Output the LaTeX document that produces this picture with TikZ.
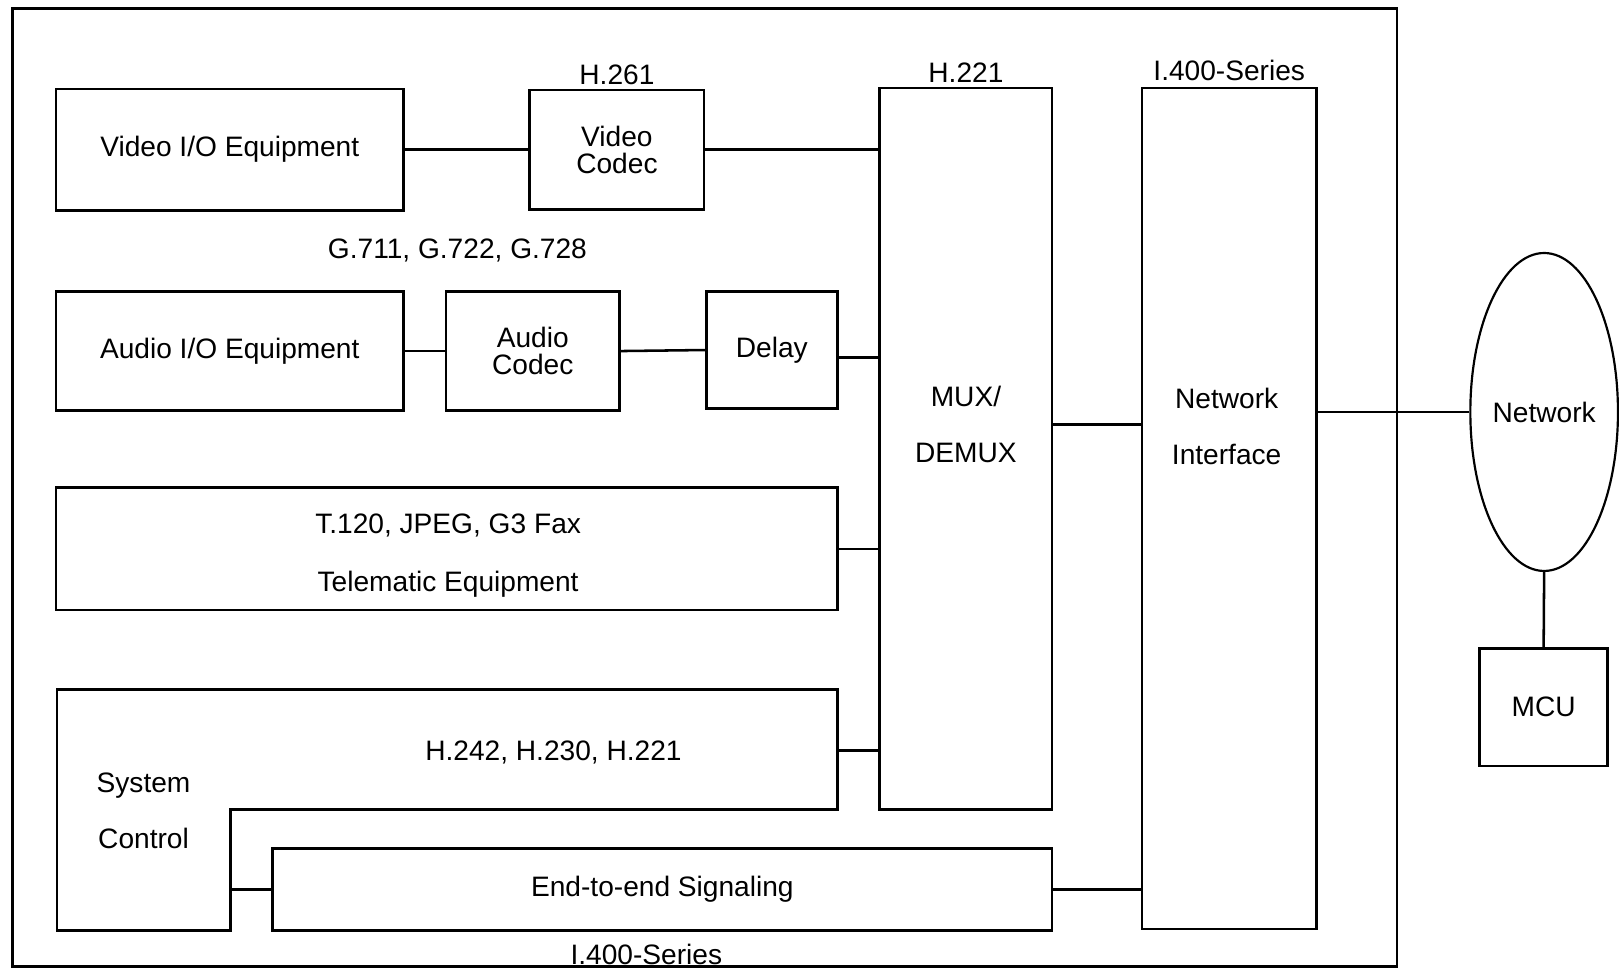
\documentclass[tikz,border=0pt]{standalone}
\usepackage{fontspec}
\setmainfont{Liberation Sans}
\usetikzlibrary{positioning,shapes.geometric}

\tikzset{
  blk/.style={draw, line width=1.4pt, inner sep=0pt, align=center},
  lbl/.style={inner sep=1pt, align=center},
  wire/.style={line width=1.4pt}
}

\begin{document}
\begin{tikzpicture}[x=0.02cm, y=-0.02cm, font=\fontsize{15.5}{18}\selectfont]

% Page frame
\useasboundingbox (0,0) rectangle (1568,939);

% Outer terminal frame
\draw[line width=1.4pt] (12,8) rectangle (1353,936);

% Video path
\node[blk, minimum width=6.74cm, minimum height=2.36cm] (vio) at (222.5,145) {Video I/O Equipment};
\node[blk, minimum width=3.38cm, minimum height=2.32cm] (vcodec) at (597.5,145) {Video\\[-3pt]Codec};
\node[lbl, above=1pt of vcodec] (h261) {H.261};

% Audio path
\node[lbl] (gaudio) at (443,243) {G.711, G.722, G.728};
\node[blk, minimum width=6.74cm, minimum height=2.30cm] (aio) at (222.5,340) {Audio I/O Equipment};
\node[blk, minimum width=3.36cm, minimum height=2.30cm] (acodec) at (516,340) {Audio\\[-3pt]Codec};
\node[blk, minimum width=2.54cm, minimum height=2.26cm] (delay) at (747.5,339) {Delay};

% Telematic
\node[blk, minimum width=15.14cm, minimum height=2.38cm] (tele) at (432.5,531.5) {};
\node[lbl] (teletxt) at (434,538) {T.120, JPEG, G3 Fax\\[14pt]Telematic Equipment};

% MUX/DEMUX and network interface
\node[blk, minimum width=3.34cm, minimum height=13.98cm] (mux) at (935.5,434.5) {};
\node[lbl] (muxtxt) at (935.5,411) {MUX/\\[13pt]DEMUX};
\node[lbl, above=1pt of mux] (h221) {H.221};
\node[blk, minimum width=3.38cm, minimum height=16.30cm] (netif) at (1190.5,492.5) {};
\node[lbl] (niftxt) at (1188,413) {Network\\[13pt]Interface};
\node[lbl, above=2pt of netif] (i400a) {I.400-Series};

% System control (L shape)
\draw[line width=1.4pt] (55,668) -- (811,668) -- (811,784) -- (223,784) -- (223,901) -- (55,901) -- cycle;
\node[lbl] (systxt) at (139,785) {System\\[13pt]Control};
\node[lbl] (hctl) at (536,729) {H.242, H.230, H.221};
\coordinate (scmux) at (811,727);
\coordinate (sce2e) at (223,861.5);

% End-to-end signaling
\node[blk, minimum width=15.10cm, minimum height=1.58cm] (e2e) at (641.5,861.5) {End-to-end Signaling};
\node[lbl] (i400b) at (626,924) {I.400-Series};

% Network and MCU
\node[draw, line width=1.2pt, ellipse, inner sep=0pt, minimum width=2.86cm, minimum height=6.16cm] (net) at (1495.5,399) {Network};
\node[blk, minimum width=2.48cm, minimum height=2.28cm] (mcu) at (1495,685) {MCU};

% Connections
\draw[wire] (vio.east) -- (vcodec.west);
\draw[wire] (vcodec.east) -- (vcodec.east -| mux.west);
\draw[wire] (aio.east) -- (acodec.west);
\draw[wire] (acodec.east) -- (delay.west);
\coordinate (delayout) at ([yshift=-0.14cm]delay.east);
\draw[wire] (delayout) -- (delayout -| mux.west);
\draw[wire] (tele.east) -- (tele.east -| mux.west);
\draw[wire] (scmux) -- (scmux -| mux.west);
\draw[wire] (sce2e) -- (e2e.west);
\draw[wire] (e2e.east) -- (e2e.east -| netif.west);
\coordinate (muxout) at ([yshift=0.47cm]mux.east);
\draw[wire] (muxout) -- (muxout -| netif.west);
\draw[wire] (net.west -| netif.east) -- (net.west);
\draw[wire] (net.south) -- (mcu.north);

\end{tikzpicture}
\end{document}
